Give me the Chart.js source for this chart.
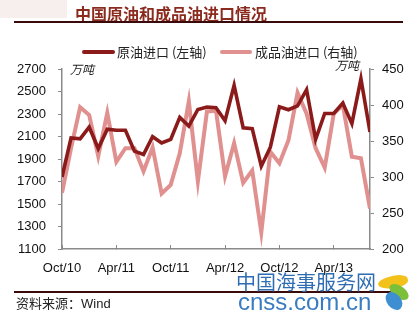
<!DOCTYPE html>
<html>
<head>
<meta charset="utf-8">
<script src="https://cdn.jsdelivr.net/npm/chart.js@4.4.0/dist/chart.umd.min.js"></script>
<style>
  html, body { margin:0; padding:0; background:#fff; }
  #wrap { position:relative; width:415px; height:313px; overflow:hidden; }
  canvas { position:absolute; left:0; top:0; }
  .t { position:absolute; white-space:nowrap; }
</style>
</head>
<body>
<div id="wrap">
  <div style="position:absolute;left:0;top:0;width:67px;height:18px;background:#f7eeee;"></div>
  <canvas id="c" width="415" height="313"></canvas>
  <div class="t" style="left:75px;top:1px;font:bold 16px 'Noto Sans CJK SC';color:#8b2a1e;">中国原油和成品油进口情况</div>
  <div style="position:absolute;left:14px;top:21px;width:389px;height:2px;background:#3a0a0a;"></div>
  <div style="position:absolute;left:82px;top:50px;width:33px;height:4px;background:#8b1a1a;border-radius:2px;"></div>
  <div class="t" style="left:117px;top:42px;font:13px 'Noto Sans CJK SC';color:#222;">原油进口 (左轴)</div>
  <div style="position:absolute;left:220px;top:50px;width:32px;height:4px;background:#e0908f;border-radius:2px;"></div>
  <div class="t" style="left:255px;top:42px;font:13px 'Noto Sans CJK SC';color:#222;">成品油进口 (右轴)</div>
  <div class="t" style="left:70px;top:60px;font:italic 12px 'Noto Sans CJK SC';color:#222;">万吨</div>
  <div class="t" style="left:335px;top:56px;font:italic 12px 'Noto Sans CJK SC';color:#222;">万吨</div>
  <div style="position:absolute;left:14px;top:291px;width:381px;height:2px;background:#3a0a0a;"></div>
  <div class="t" style="left:16px;top:293px;font:13px 'Noto Sans CJK SC';color:#222;">资料来源：<span style="font-family:'Liberation Sans'">Wind</span></div>
  <div class="t" style="left:236px;top:270px;font:20px 'Noto Sans CJK SC';color:#2f6db3;line-height:24px;">中国海事服务网</div>
  <div class="t" style="left:238px;top:288px;font:24px 'Liberation Sans';color:#3a7cc2;line-height:28px;">cnss.com.cn</div>
  <div style="position:absolute;left:378px;top:276px;width:30px;height:12px;background:#f2c21b;border-radius:50% 50% 40% 60%;transform:rotate(-12deg);"></div>
  <div style="position:absolute;left:388px;top:286px;width:22px;height:12px;background:#7bbf3a;border-radius:50%;transform:rotate(35deg);"></div>
  <div style="position:absolute;left:384px;top:294px;width:20px;height:14px;background:#3d8fd1;border-radius:50%;transform:rotate(50deg);"></div>
</div>
<script>
const categories = ['Oct/10','Nov/10','Dec/10','Jan/11','Feb/11','Mar/11','Apr/11','May/11','Jun/11','Jul/11','Aug/11','Sep/11',
  'Oct/11','Nov/11','Dec/11','Jan/12','Feb/12','Mar/12','Apr/12','May/12','Jun/12','Jul/12','Aug/12','Sep/12',
  'Oct/12','Nov/12','Dec/12','Jan/13','Feb/13','Mar/13','Apr/13','May/13','Jun/13','Jul/13','Aug/13'];
const crudeImports = [1740,2087,2080,2184,1993,2164,2155,2155,1970,1940,2098,2042,
  2075,2270,2192,2340,2362,2356,2240,2554,2177,2170,1836,2005,
  2364,2338,2372,2516,2075,2305,2305,2397,2214,2613,2140];
const productImports = [278,340,397,386,329,389,321,340,340,308,341,277,
  289,333,405,294,391,392,301,347,292,309,223,335,
  319,351,417,388,340,313,388,400,328,326,256];
const leftTicks = [1100,1300,1500,1700,1900,2100,2300,2500,2700];
const rightTicks = [200,250,300,350,400,450];

const toPts = arr => arr.map((v,i)=>({x:i,y:v}));
const tickFont = {family:'Liberation Sans', size:13};

new Chart(document.getElementById('c'), {
  type:'line',
  data:{ datasets:[
    {label:'原油进口 (左轴)', data:toPts(crudeImports), yAxisID:'yL', borderColor:'#8b1a1a', borderWidth:3.6, pointRadius:0, tension:0, order:0},
    {label:'成品油进口 (右轴)', data:toPts(productImports), yAxisID:'yR', borderColor:'#e0908f', borderWidth:4, pointRadius:0, tension:0, order:1}
  ]},
  options:{
    responsive:false, animation:false, events:[],
    layout:{padding:{top:69,left:0,right:0,bottom:0}},
    plugins:{legend:{display:false}, title:{display:false}, tooltip:{enabled:false}},
    scales:{
      x:{ type:'linear', min:0, max:categories.length-1,
          afterBuildTicks: s => { s.ticks = categories.map((c,i)=>({value:i})).filter(t=>t.value%6===0); },
          ticks:{ autoSkip:false, maxRotation:0, padding:16, color:'#111', font:tickFont, callback:v=>categories[v] },
          grid:{ drawOnChartArea:false, tickLength:-4, color:'#8a8a8a' },
          border:{ color:'#8a8a8a', width:1.5 },
          afterFit: s => { s.height = 313-249; } },
      yL:{ position:'left', min:1100, max:2700,
          afterBuildTicks: s => { s.ticks = leftTicks.map(v=>({value:v})); },
          ticks:{ padding:12, color:'#111', font:tickFont, callback:v=>String(v) },
          grid:{ drawOnChartArea:false, tickLength:4, color:'#8a8a8a' },
          border:{ color:'#8a8a8a', width:1.5 },
          afterFit: s => { s.width = 62; } },
      yR:{ position:'right', min:200, max:450,
          afterBuildTicks: s => { s.ticks = rightTicks.map(v=>({value:v})); },
          ticks:{ padding:8, color:'#111', font:tickFont, callback:v=>String(v) },
          grid:{ drawOnChartArea:false, tickLength:4, color:'#8a8a8a' },
          border:{ color:'#8a8a8a', width:1.5 },
          afterFit: s => { s.width = 45; } }
    }
  }
});
</script>
</body>
</html>
